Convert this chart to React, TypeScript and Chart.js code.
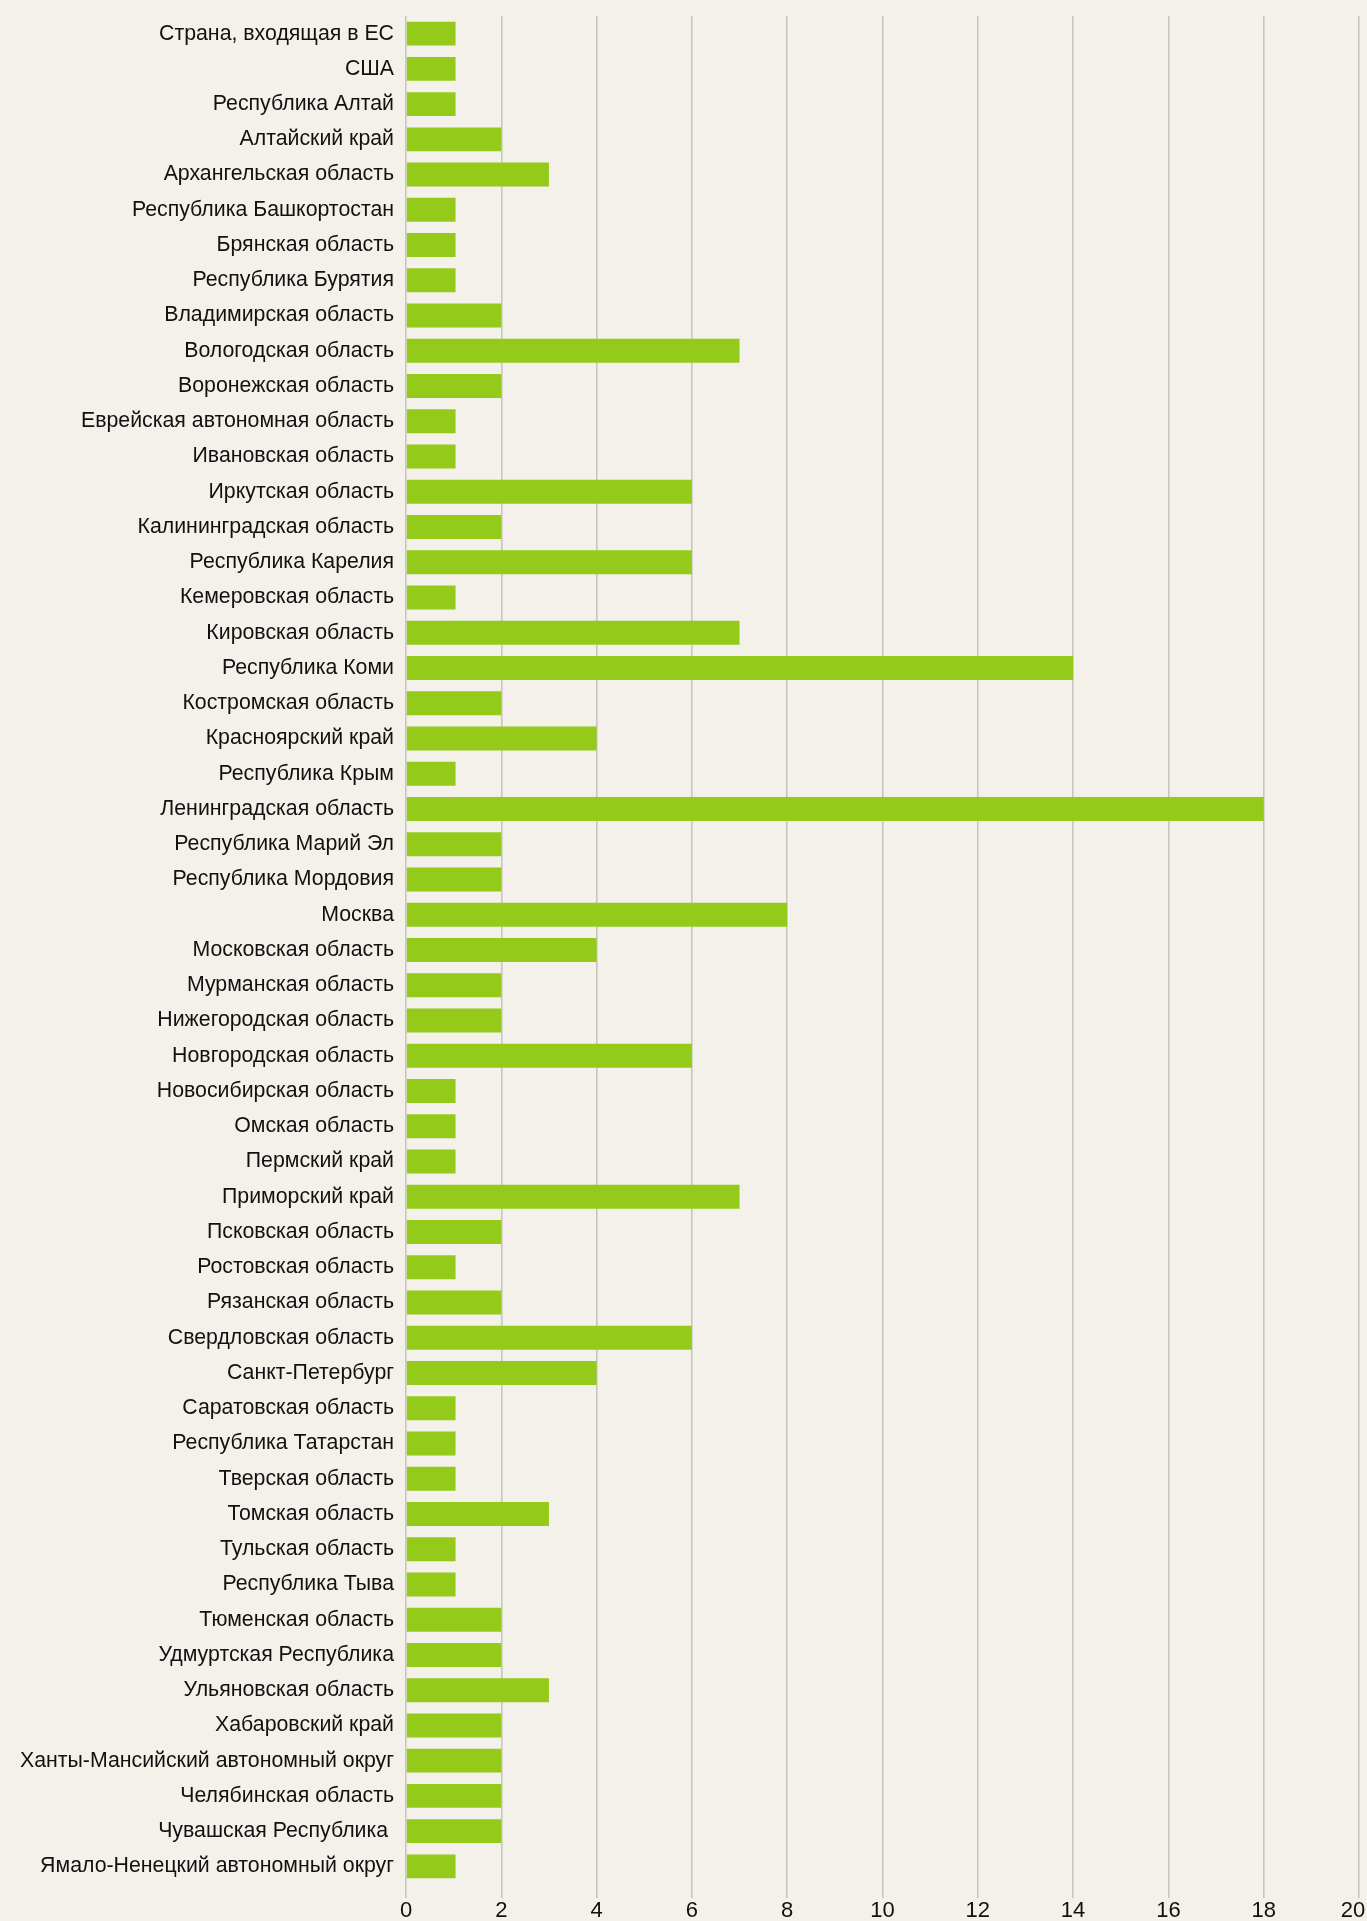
import React, { useEffect, useRef } from "react";
import { Chart, registerables } from "chart.js";

Chart.register(...registerables);

const categories: string[] = [
  "Страна, входящая в ЕС",
  "США",
  "Республика Алтай",
  "Алтайский край",
  "Архангельская область",
  "Республика Башкортостан",
  "Брянская область",
  "Республика Бурятия",
  "Владимирская область",
  "Вологодская область",
  "Воронежская область",
  "Еврейская автономная область",
  "Ивановская область",
  "Иркутская область",
  "Калининградская область",
  "Республика Карелия",
  "Кемеровская область",
  "Кировская область",
  "Республика Коми",
  "Костромская область",
  "Красноярский край",
  "Республика Крым",
  "Ленинградская область",
  "Республика Марий Эл",
  "Республика Мордовия",
  "Москва",
  "Московская область",
  "Мурманская область",
  "Нижегородская область",
  "Новгородская область",
  "Новосибирская область",
  "Омская область",
  "Пермский край",
  "Приморский край",
  "Псковская область",
  "Ростовская область",
  "Рязанская область",
  "Свердловская область",
  "Санкт-Петербург",
  "Саратовская область",
  "Республика Татарстан",
  "Тверская область",
  "Томская область",
  "Тульская область",
  "Республика Тыва",
  "Тюменская область",
  "Удмуртская Республика",
  "Ульяновская область",
  "Хабаровский край",
  "Ханты-Мансийский автономный округ",
  "Челябинская область",
  "Чувашская Республика ",
  "Ямало-Ненецкий автономный округ",
];

const values: number[] = [
  1.04, 1.04, 1.04, 2, 3, 1.04, 1.04, 1.04, 2, 7,
  2, 1.04, 1.04, 6, 2, 6, 1.04, 7, 14, 2,
  4, 1.04, 18, 2, 2, 8, 4, 2, 2, 6,
  1.04, 1.04, 1.04, 7, 2, 1.04, 2, 6, 4, 1.04,
  1.04, 1.04, 3, 1.04, 1.04, 2, 2, 3, 2, 2,
  2, 2, 1.04,
];

const xMin = 0;
const xMax = 20;
const xStep = 2;

const BG = "#F3F1EA";
const BAR = "#94CB1A";
const GRID = "#C8C6BF";

export default function App() {
  const ref = useRef<HTMLCanvasElement | null>(null);

  useEffect(() => {
    if (!ref.current) return;
    const chart = new Chart(ref.current, {
      type: "bar",
      data: {
        labels: categories,
        datasets: [
          {
            data: values,
            backgroundColor: BAR,
            borderWidth: 0,
            barPercentage: 0.68,
            categoryPercentage: 1,
          },
        ],
      },
      options: {
        indexAxis: "y",
        animation: false,
        responsive: false,
        maintainAspectRatio: false,
        layout: { padding: { top: 16, left: 0, right: 8, bottom: 0 } },
        plugins: {
          legend: { display: false },
          tooltip: { enabled: false },
        },
        scales: {
          x: {
            min: xMin,
            max: xMax,
            ticks: {
              stepSize: xStep,
              color: "#111",
              padding: 0,
              font: { family: "'Liberation Sans', Arial, sans-serif", size: 22 },
              maxRotation: 0,
              callback: (v: any) => (Number(v) === xMax ? String(v) + "\u00a0\u00a0" : String(v)),
            },
            grid: {
              color: GRID,
              lineWidth: 1.6,
              drawTicks: true,
              tickLength: 14,
              tickColor: GRID,
            },
            border: { display: false },
            afterFit: (scale: any) => {
              scale.height = 37;
              scale.paddingLeft = 0;
              scale.paddingRight = 0;
            },
          },
          y: {
            ticks: {
              color: "#111",
              padding: 12,
              autoSkip: false,
              font: { family: "'Liberation Sans', Arial, sans-serif", size: 21.3 },
            },
            grid: { display: false, drawTicks: false },
            border: { display: false },
            afterFit: (scale: any) => {
              scale.width = 406;
              scale.paddingTop = 0;
              scale.paddingBottom = 0;
            },
          },
        },
      },
      plugins: [
        {
          id: "bg",
          beforeDraw: (c: any) => {
            const ctx = c.ctx;
            ctx.save();
            ctx.fillStyle = BG;
            ctx.fillRect(0, 0, c.width, c.height);
            ctx.restore();
          },
        },
      ],
    });
    return () => chart.destroy();
  }, []);

  return (
    <div
      style={{
        position: "absolute",
        left: 0,
        top: 0,
        width: 1367,
        height: 1921,
        overflow: "hidden",
        background: BG,
      }}
    >
      <canvas ref={ref} width={1367} height={1921} style={{ display: "block" }} />
    </div>
  );
}
